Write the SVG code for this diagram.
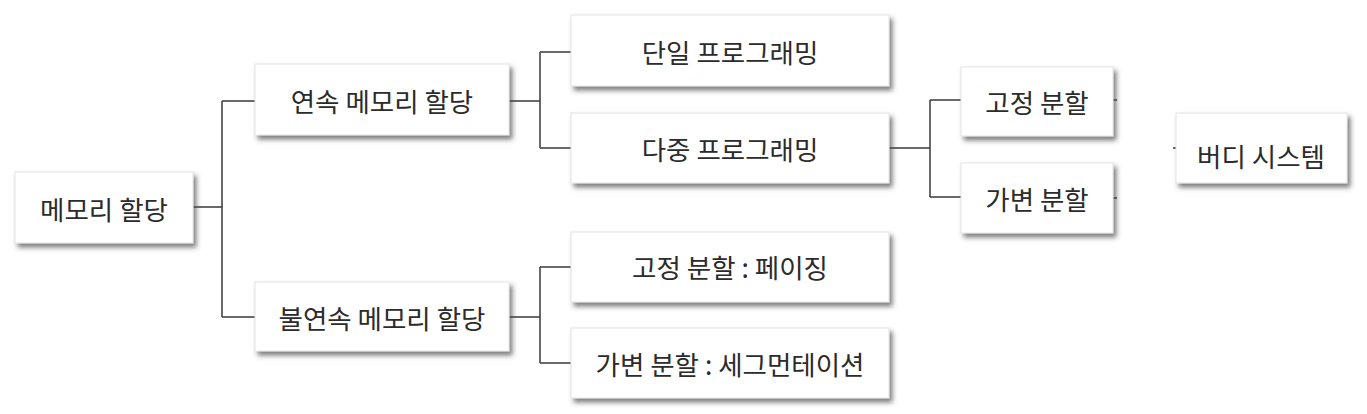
<svg xmlns="http://www.w3.org/2000/svg" width="1367" height="414" viewBox="0 0 1367 414">
<defs>
<style>
.box{fill:#fff;stroke:#e4e4e4;stroke-width:1;filter:url(#sh)}
.t{font-family:"Noto Sans CJK KR","Noto Sans",sans-serif;font-size:26.5px;fill:#2b2b2b;text-anchor:middle;dominant-baseline:central}
.c{fill:none;stroke:#3a3a3a;stroke-width:1.5}
</style>
<filter id="sh" x="-10%" y="-20%" width="130%" height="160%">
<feDropShadow dx="3" dy="4" stdDeviation="2.5" flood-color="#444" flood-opacity="0.7"/>
</filter>
</defs>
<rect width="1367" height="414" fill="#fff"/>
<g id="connectors">
<path class="c" d="M193 207H222M222 101V317M222 101H255M222 317H255"/>
<path class="c" d="M509 101H540M540 52V148M540 52H571M540 148H571"/>
<path class="c" d="M889 148H930M930 100V197M930 100H961M930 197H961"/>
<path class="c" d="M509 317H540M540 267V363M540 267H571M540 363H571"/>
<path class="c" d="M1113 100H1117M1113 198H1117M1173 148H1176"/>
</g>
<g id="n1"><rect class="box" x="15" y="172" width="178" height="71"/><text class="t" x="104" y="208">메모리 할당</text></g>
<g id="n2"><rect class="box" x="255" y="64" width="254" height="71"/><text class="t" x="382" y="100">연속 메모리 할당</text></g>
<g id="n3"><rect class="box" x="255" y="282" width="254" height="69"/><text class="t" x="382" y="317">불연속 메모리 할당</text></g>
<g id="n4"><rect class="box" x="571" y="15" width="318" height="71"/><text class="t" x="730" y="51">단일 프로그래밍</text></g>
<g id="n5"><rect class="box" x="571" y="113" width="318" height="70"/><text class="t" x="730" y="148">다중 프로그래밍</text></g>
<g id="n6"><rect class="box" x="571" y="232" width="318" height="70"/><text class="t" x="730" y="266">고정 분할 : 페이징</text></g>
<g id="n7"><rect class="box" x="571" y="328" width="318" height="70"/><text class="t" x="730" y="363">가변 분할 : 세그먼테이션</text></g>
<g id="n8"><rect class="box" x="961" y="67" width="152" height="69"/><text class="t" x="1037" y="101">고정 분할</text></g>
<g id="n9"><rect class="box" x="961" y="163" width="152" height="70"/><text class="t" x="1037" y="198">가변 분할</text></g>
<g id="n10"><rect class="box" x="1176" y="113" width="171" height="70"/><text class="t" x="1261" y="155">버디 시스템</text></g>
</svg>
